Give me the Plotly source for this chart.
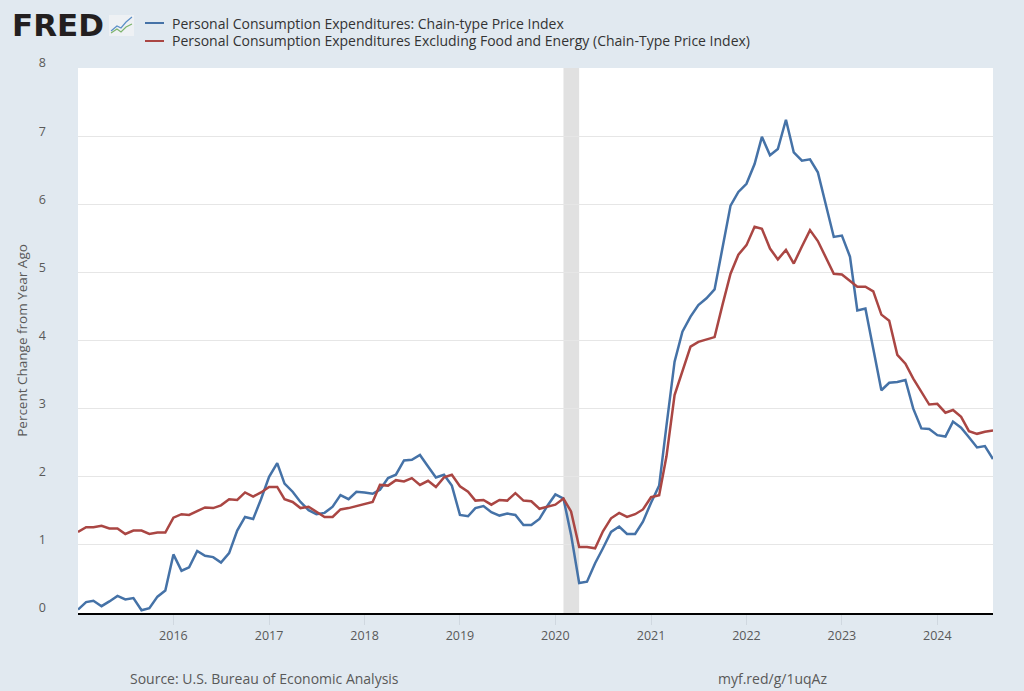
import pandas as pd
import plotly.graph_objects as go

# monthly, Jan 2015 .. Aug 2024, percent change from year ago
start_month = "2015-01-01"

pce = [
    0.05, 0.16, 0.18, 0.10, 0.17, 0.25, 0.20, 0.22, 0.04, 0.07, 0.24, 0.33,  # 2015
    0.86, 0.62, 0.67, 0.91, 0.84, 0.82, 0.74, 0.88, 1.21, 1.41, 1.38, 1.67,  # 2016
    2.00, 2.20, 1.90, 1.78, 1.63, 1.51, 1.45, 1.47, 1.56, 1.73, 1.67, 1.78,  # 2017
    1.77, 1.75, 1.81, 1.98, 2.03, 2.24, 2.25, 2.32, 2.15, 1.99, 2.03, 1.87,  # 2018
    1.44, 1.42, 1.54, 1.57, 1.48, 1.43, 1.46, 1.44, 1.29, 1.29, 1.38, 1.57,  # 2019
    1.74, 1.68, 1.15, 0.44, 0.46, 0.73, 0.95, 1.19, 1.27, 1.16, 1.16, 1.34,  # 2020
    1.62, 1.87, 2.75, 3.69, 4.13, 4.35, 4.52, 4.62, 4.75, 5.37, 5.98, 6.18,  # 2021
    6.30, 6.59, 6.99, 6.72, 6.81, 7.24, 6.76, 6.64, 6.66, 6.47, 6.00, 5.52,  # 2022
    5.54, 5.23, 4.44, 4.47, 3.88, 3.27, 3.38, 3.39, 3.42, 3.00, 2.71, 2.70,  # 2023
    2.61, 2.59, 2.81, 2.72, 2.58, 2.43, 2.45, 2.26,                          # 2024
]

core_pce = [
    1.19, 1.26, 1.26, 1.28, 1.24, 1.24, 1.16, 1.21, 1.21, 1.16, 1.18, 1.18,  # 2015
    1.40, 1.45, 1.44, 1.50, 1.55, 1.54, 1.58, 1.67, 1.66, 1.77, 1.71, 1.77,  # 2016
    1.85, 1.85, 1.67, 1.63, 1.54, 1.56, 1.48, 1.41, 1.41, 1.52, 1.54, 1.57,  # 2017
    1.61, 1.63, 1.88, 1.87, 1.95, 1.93, 1.98, 1.88, 1.94, 1.85, 1.99, 2.03,  # 2018
    1.86, 1.78, 1.65, 1.66, 1.59, 1.66, 1.65, 1.76, 1.65, 1.64, 1.53, 1.56,  # 2019
    1.59, 1.68, 1.49, 0.97, 0.97, 0.95, 1.20, 1.39, 1.47, 1.41, 1.45, 1.52,  # 2020
    1.70, 1.73, 2.30, 3.20, 3.54, 3.91, 3.98, 4.01, 4.05, 4.52, 4.98, 5.26,  # 2021
    5.40, 5.67, 5.64, 5.35, 5.19, 5.33, 5.13, 5.38, 5.62, 5.46, 5.21, 4.98,  # 2022
    4.97, 4.88, 4.79, 4.79, 4.72, 4.38, 4.29, 3.79, 3.66, 3.44, 3.25, 3.06,  # 2023
    3.07, 2.94, 2.98, 2.88, 2.67, 2.63, 2.66, 2.68,                          # 2024
]

recession_start = "2020-02-01"
recession_end = "2020-04-01"

year_ticks = [str(y) + "-01-01" for y in range(2016, 2025)]
year_labels = [str(y) for y in range(2016, 2025)]

names = [
    "Personal Consumption Expenditures: Chain-type Price Index",
    "Personal Consumption Expenditures Excluding Food and Energy (Chain-Type Price Index)",
]
colors = ["#4572A7", "#AA4643"]

dates = pd.date_range(start_month, periods=len(pce), freq="MS")

# plot area in pixels (left, top, right, bottom)
L, T, R, B = 78, 68, 993, 613


def px(x, y):
    # pixel position -> paper coords (for header/footer decoration)
    return (x - L) / (R - L), (B - y) / (B - T)


fig = go.Figure()
for vals, name, col in zip([pce, core_pce], names, colors):
    fig.add_trace(go.Scatter(x=dates, y=vals, name=name, mode="lines",
                             line=dict(color=col, width=2.5)))

# recession shading
fig.add_vrect(x0=recession_start, x1=recession_end, fillcolor="#e1e1e1",
              opacity=1, line_width=0, layer="below")

annotations = []
# legend drawn by hand (FRED style, short line keys)
for i, (name, col) in enumerate(zip(names, colors)):
    ty = 23 + i * 18
    x0, y0 = px(145, ty)
    x1, _ = px(164, ty)
    fig.add_shape(type="line", xref="paper", yref="paper", x0=x0, x1=x1, y0=y0, y1=y0,
                  line=dict(color=col, width=2))
    tx, _ = px(170, ty)
    annotations.append(dict(text=name, x=tx, y=y0, xref="paper", yref="paper",
                            xanchor="left", yanchor="middle", showarrow=False,
                            font=dict(size=14, color="#333333")))

fx, fy = px(10, 25)
annotations.append(dict(text="<b>FRED</b>", x=fx, y=fy, xref="paper", yref="paper",
                        xanchor="left", yanchor="middle", showarrow=False,
                        font=dict(family="DejaVu Sans", size=31, color="#231F20")))
sx, sy = px(264, 678)
annotations.append(dict(text="Source: U.S. Bureau of Economic Analysis", x=sx, y=sy,
                        xref="paper", yref="paper", xanchor="center", yanchor="middle",
                        showarrow=False, font=dict(size=14, color="#595959")))
mx, my = px(772, 678)
annotations.append(dict(text="myf.red/g/1uqAz", x=mx, y=my,
                        xref="paper", yref="paper", xanchor="center", yanchor="middle",
                        showarrow=False, font=dict(size=14, color="#595959")))

# small logo icon next to "FRED"
ix0, iy0 = px(109, 36)
ix1, iy1 = px(134, 15)
fig.add_shape(type="rect", xref="paper", yref="paper", x0=ix0, x1=ix1, y0=iy0, y1=iy1,
              fillcolor="#EEF1F4", line=dict(width=0))
icon_blue = [(111, 31), (117, 26), (121, 28), (126, 22), (132, 17)]
icon_green = [(111, 33), (117, 29), (121, 32), (126, 27), (132, 24)]
for pts, col in [(icon_blue, "#5B8FC7"), (icon_green, "#7DB46C")]:
    path = " ".join(("M" if k == 0 else "L") + " %.4f %.4f" % px(*p) for k, p in enumerate(pts))
    fig.add_shape(type="path", xref="paper", yref="paper", path=path,
                  line=dict(color=col, width=1.2))

fig.update_layout(
    width=1024, height=691,
    margin=dict(l=L, r=1024 - R, t=T, b=691 - B),
    paper_bgcolor="#E1E9F0",
    plot_bgcolor="#FFFFFF",
    font=dict(family="Open Sans", size=12, color="#595959"),
    showlegend=False,
    xaxis=dict(
        range=[dates[0], dates[-1]],
        tickvals=year_ticks, ticktext=year_labels,
        showgrid=False, showline=True, linecolor="#000000", linewidth=2,
        ticks="outside", ticklen=10, tickcolor="#D0D8E0",
        tickfont=dict(size=12.5, color="#595959"),
        zeroline=False,
    ),
    yaxis=dict(
        range=[0, 8], dtick=1,
        showgrid=True, gridcolor="#E6E6E6", gridwidth=1,
        zeroline=False, showline=False,
        ticks="", ticklabelstandoff=31, ticklabelshift=-5,
        tickfont=dict(size=12.5, color="#595959"),
        title=dict(text="Percent Change from Year Ago", standoff=8,
                   font=dict(size=13.5, color="#595959")),
    ),
    annotations=annotations,
)

fig.write_html("out.html", config={"displayModeBar": False},
               post_script="document.body.style.margin='0';")
